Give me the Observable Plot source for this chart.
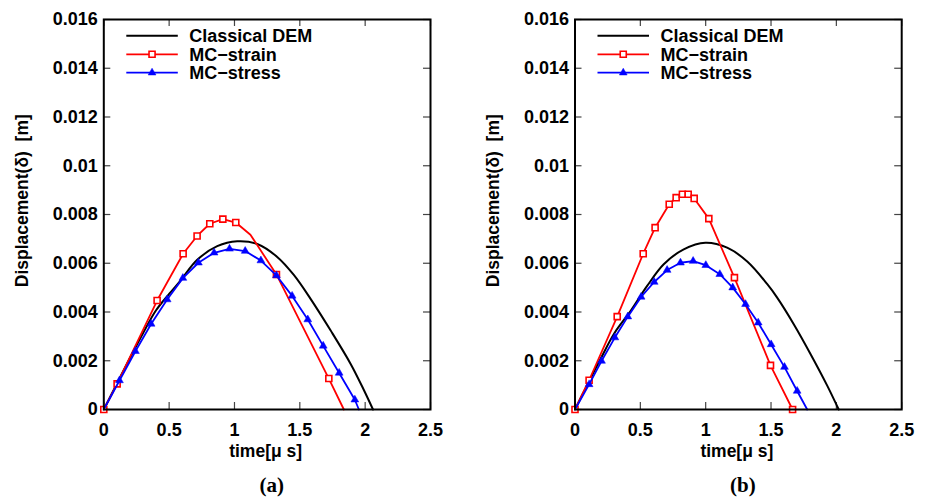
<!DOCTYPE html>
<html><head><meta charset="utf-8">
<script src="https://cdn.jsdelivr.net/npm/d3@7"></script>
<script src="https://cdn.jsdelivr.net/npm/@observablehq/plot@0.6"></script>
<style>
body{margin:0;background:#fff;width:933px;height:503px;overflow:hidden;position:relative;font-family:"Liberation Sans",Arial,sans-serif}
.panel{position:absolute;top:0}
</style></head><body>
<div id="pa" class="panel" style="left:0"></div>
<div id="pb" class="panel" style="left:466px"></div>
<script>
const xTicks = [0, 0.5, 1, 1.5, 2, 2.5];
const xTickLabels = ["0", "0.5", "1", "1.5", "2", "2.5"];
const yTicks = [0, 0.002, 0.004, 0.006, 0.008, 0.010, 0.012, 0.014, 0.016];
const yTickLabels = ["0", "0.002", "0.004", "0.006", "0.008", "0.01", "0.012", "0.014", "0.016"];
const seriesNames = ["Classical DEM", "MC\u2212strain", "MC\u2212stress"];
const xTitle = "time[\u03bc s]";
const yTitle = "Displacement(\u03b4)\u00a0 [m]";
const panelTags = ["(a)", "(b)"];

// Panel (a): [time µs, displacement m]
const demA = [[0,0],[0.1,0.00106],[0.2,0.00211],[0.3,0.00313],[0.4,0.00407],[0.5,0.00474],[0.587,0.00529],[0.715,0.00614],[0.868,0.0067],[1.021,0.0069],[1.174,0.00679],[1.327,0.00626],[1.454,0.00552],[1.581,0.00455],[1.735,0.00325],[1.888,0.00188],[1.99,0.0008],[2.06,0]];
const strainA = [[0,0],[0.102,0.00105],[0.408,0.00447],[0.607,0.00639],[0.714,0.00712],[0.811,0.00762],[0.911,0.00781],[1.01,0.00767],[1.122,0.00717],[1.321,0.00554],[1.722,0.00127],[1.837,0]];
const strainAUnmarked = [1.122, 1.837];
const stressA = [[0,0],[0.12,0.00119],[0.242,0.00239],[0.362,0.00351],[0.485,0.00451],[0.605,0.00539],[0.724,0.00602],[0.844,0.00643],[0.962,0.00659],[1.082,0.0065],[1.202,0.00611],[1.321,0.0055],[1.441,0.00466],[1.561,0.00369],[1.679,0.00261],[1.801,0.0015],[1.921,0.0004],[1.952,0]];
const stressAUnmarked = [0, 1.952];

// Panel (b)
const demB = [[0,0],[0.1,0.00107],[0.2,0.00212],[0.3,0.00312],[0.425,0.00404],[0.552,0.00507],[0.679,0.00596],[0.832,0.00657],[0.998,0.00684],[1.164,0.00664],[1.318,0.00607],[1.47,0.00515],[1.547,0.00459],[1.674,0.0035],[1.802,0.00228],[1.93,0.00098],[2.018,0]];
const strainB = [[0,0],[0.108,0.0012],[0.323,0.00381],[0.522,0.00639],[0.613,0.00746],[0.721,0.00842],[0.774,0.00869],[0.822,0.00883],[0.866,0.00883],[0.912,0.00866],[1.024,0.00783],[1.22,0.00541],[1.496,0.00181],[1.665,0]];
const strainBUnmarked = [];
const stressB = [[0,0],[0.108,0.00103],[0.203,0.00199],[0.305,0.00295],[0.404,0.00381],[0.506,0.00462],[0.606,0.00523],[0.705,0.00572],[0.807,0.00602],[0.904,0.00609],[1.001,0.00592],[1.108,0.00555],[1.207,0.005],[1.305,0.00432],[1.402,0.00356],[1.501,0.00267],[1.603,0.00174],[1.7,0.00076],[1.777,0]];
const stressBUnmarked = [0, 1.777];

const FONT = '"Liberation Sans", Arial, Helvetica, sans-serif';
const SQ_R = 3.4, TRI_R = 2.9;
const TICK_FS = 18;

function panel({el, width, mL, mR, dem, strain, strainUn, stress, stressUn, tag}) {
  const H = 503, mT = 19, mB = 94;
  const plotW = width - mL - mR, plotH = H - mT - mB;
  const marked = (arr, un) => arr.filter(d => !un.includes(d[0]));
  const X = d => d[0], Y = d => d[1];
  const chart = Plot.plot({
    width, height: H, marginLeft: mL, marginRight: mR, marginTop: mT, marginBottom: mB,
    x: {type: "linear", domain: [0, 2.5]},
    y: {type: "linear", domain: [0, 0.016]},
    style: {fontFamily: FONT, fontWeight: "bold", fontSize: "17.5px", color: "black", background: "white", overflow: "visible"},
    marks: [
      Plot.axisX(xTicks, {tickSize: 0, tickPadding: 14, tickFormat: d => xTickLabels[xTicks.indexOf(d)], label: null}),
      Plot.axisY(yTicks, {tickSize: 0, tickPadding: 6, tickFormat: d => yTickLabels[yTicks.indexOf(d)], label: null}),
      Plot.tickX(xTicks, {x: d => d, stroke: "#444", strokeWidth: 1.2, insetTop: plotH - 7}),
      Plot.tickX(xTicks, {x: d => d, stroke: "#444", strokeWidth: 1.2, insetBottom: plotH - 7}),
      Plot.tickY(yTicks, {y: d => d, stroke: "#444", strokeWidth: 1.2, insetRight: plotW - 7}),
      Plot.tickY(yTicks, {y: d => d, stroke: "#444", strokeWidth: 1.2, insetLeft: plotW - 7}),
      Plot.line(dem, {x: X, y: Y, stroke: "black", strokeWidth: 2, curve: "catmull-rom"}),
      Plot.line(strain, {x: X, y: Y, stroke: "#ff0000", strokeWidth: 1.8}),
      Plot.dot(marked(strain, strainUn), {x: X, y: Y, symbol: "square", r: SQ_R, stroke: "#ff0000", fill: "white", strokeWidth: 1.6}),
      Plot.line(stress, {x: X, y: Y, stroke: "#0000ff", strokeWidth: 1.8}),
      Plot.dot(marked(stress, stressUn), {x: X, y: Y, symbol: "triangle", r: TRI_R, fill: "#0000ff", stroke: "#0000ff", strokeWidth: 0.5}),
      Plot.frame({stroke: "black", strokeWidth: 2}),
      Plot.text([xTitle], {text: d => d, frameAnchor: "bottom", dy: 47, dx: -1.5, fontSize: 17.5, fontWeight: "bold"}),
      Plot.text([tag], {text: d => d, frameAnchor: "bottom", dy: 82, dx: 4.5, fontSize: 21, fontWeight: "bold", fontFamily: '"Liberation Serif", "Times New Roman", serif'})
    ]
  });
  const svg = d3.select(chart);
  svg.selectAll('g[aria-label="x-axis tick label"] text, g[aria-label="y-axis tick label"] text')
    .style("font-size", TICK_FS + "px").style("font-weight", "bold");
  // y-axis title (rotated)
  svg.append("text")
    .attr("transform", `translate(${mL - 81.6},${200.7}) rotate(-90)`)
    .attr("text-anchor", "middle").attr("dominant-baseline", "central")
    .attr("font-family", FONT).attr("font-weight", "bold").attr("font-size", 17.5).attr("fill", "black")
    .text(yTitle);
  // legend (inside frame, top-left)
  const g = svg.append("g").attr("text-anchor", "start");
  const rowsY = [35.7, 54.3, 72.7];
  const colors = ["black", "#ff0000", "#0000ff"];
  const lx1 = mL + 23, lx2 = mL + 74.5, tx = mL + 86;
  seriesNames.forEach((name, i) => {
    const y = rowsY[i];
    g.append("line").attr("x1", lx1).attr("x2", lx2).attr("y1", y).attr("y2", y)
      .attr("stroke", colors[i]).attr("stroke-width", i === 0 ? 2 : 1.8);
    const cx = (lx1 + lx2) / 2;
    if (i === 1) {
      g.append("path").attr("d", d3.symbol(d3.symbolSquare, SQ_R * SQ_R * Math.PI)())
        .attr("transform", `translate(${cx},${y})`).attr("fill", "white").attr("stroke", "#ff0000").attr("stroke-width", 1.6);
    } else if (i === 2) {
      g.append("path").attr("d", d3.symbol(d3.symbolTriangle, TRI_R * TRI_R * Math.PI)())
        .attr("transform", `translate(${cx},${y})`).attr("fill", "#0000ff").attr("stroke", "#0000ff").attr("stroke-width", 0.5);
    }
    g.append("text").attr("x", tx).attr("y", y + 6.4).attr("text-anchor", "start").text(name)
      .attr("font-family", FONT).attr("font-weight", "bold").attr("font-size", 18).attr("fill", "black");
  });
  document.getElementById(el).appendChild(chart);
}

panel({el: "pa", width: 466, mL: 103.3, mR: 36, dem: demA, strain: strainA, strainUn: strainAUnmarked, stress: stressA, stressUn: stressAUnmarked, tag: panelTags[0]});
panel({el: "pb", width: 467, mL: 108.5, mR: 31.8, dem: demB, strain: strainB, strainUn: strainBUnmarked, stress: stressB, stressUn: stressBUnmarked, tag: panelTags[1]});
</script>
</body></html>
